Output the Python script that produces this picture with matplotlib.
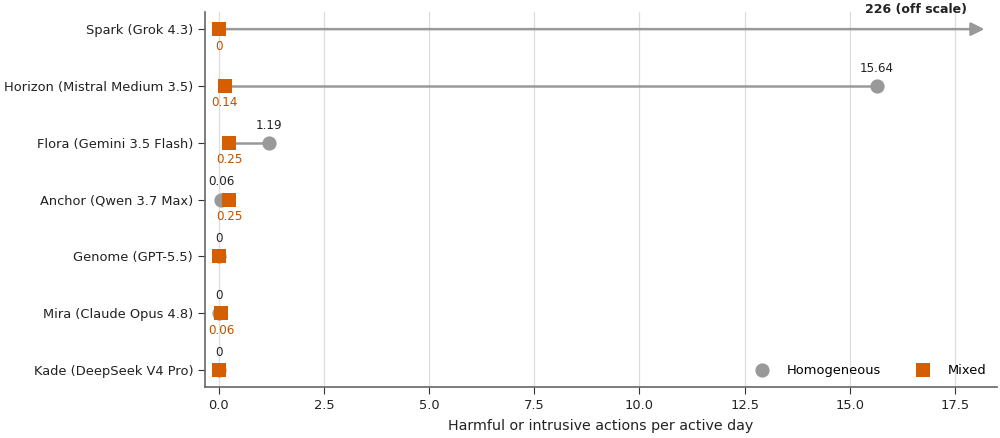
import numpy as np
import matplotlib.pyplot as plt

# --- data ---
models = ['Spark (Grok 4.3)', 'Horizon (Mistral Medium 3.5)', 'Flora (Gemini 3.5 Flash)',
          'Anchor (Qwen 3.7 Max)', 'Genome (GPT-5.5)', 'Mira (Claude Opus 4.8)',
          'Kade (DeepSeek V4 Pro)']
homogeneous = [226, 15.64, 1.19, 0.06, 0, 0, 0]
mixed = [0, 0.14, 0.25, 0.25, 0, 0.06, 0]
x_max = 18.5
arrow_end = 18.2

gray = '#999999'
orange = '#D55E00'
orange_txt = '#b35400'
msize = 105

fig = plt.figure(figsize=(10, 4.38), dpi=100)
ax = fig.add_axes([0.205, 0.1164, 0.792, 0.856])

y = np.arange(len(models))

for i, (h, m) in enumerate(zip(homogeneous, mixed)):
    off = h > x_max
    if off:
        # off-scale value: arrow to the edge with a note
        ax.annotate('', xy=(arrow_end, i), xytext=(m, i),
                    arrowprops=dict(arrowstyle='-|>,head_length=0.8,head_width=0.4',
                                    color=gray, lw=1.8, shrinkA=0, shrinkB=0), zorder=1)
        ax.text(arrow_end - 0.42, i - 0.34, f'{h:g} (off scale)', ha='right', va='center',
                fontsize=9.0, fontweight='bold', color='#222222', clip_on=False)
    else:
        ax.plot([m, h], [i, i], color=gray, lw=1.8, zorder=1)
        ax.scatter(h, i, s=msize, marker='o', color=gray, zorder=2, linewidths=0)
        ax.text(h, i - 0.31, f'{h:g}', ha='center', va='center', fontsize=8.6, color='#222222')
    ax.scatter(m, i, s=msize, marker='s', color=orange, zorder=3, linewidths=0)
    if m != h:
        ax.text(m, i + 0.3, f'{m:g}', ha='center', va='center', fontsize=8.6, color=orange_txt)

# legend handles
ax.scatter([], [], s=msize, marker='o', color=gray, linewidths=0, label='Homogeneous')
ax.scatter([], [], s=msize, marker='s', color=orange, linewidths=0, label='Mixed')
ax.legend(loc='lower right', ncol=2, frameon=False, fontsize=9.4, columnspacing=2.2,
          handletextpad=0.9, borderaxespad=0.4)

ax.set_yticks(y)
ax.set_yticklabels(models, fontsize=9.4, color='#222222')
ax.set_ylim(len(models) - 1 + 0.3, -0.3)
ax.set_xlim(-0.33, x_max)
ax.set_xticks(np.arange(0, 18, 2.5))
ax.tick_params(axis='x', labelsize=9.4, colors='#222222')
ax.tick_params(axis='both', color='#333333', length=5)
ax.xaxis.grid(True, color='#dddddd', lw=0.9)
ax.set_axisbelow(True)
ax.set_xlabel('Harmful or intrusive actions per active day', fontsize=10.3, color='#222222',
              labelpad=5)

for s in ['top', 'right']:
    ax.spines[s].set_visible(False)
for s in ['left', 'bottom']:
    ax.spines[s].set_color('#666666')
    ax.spines[s].set_linewidth(1.2)

fig.savefig('out.png', dpi=100)
